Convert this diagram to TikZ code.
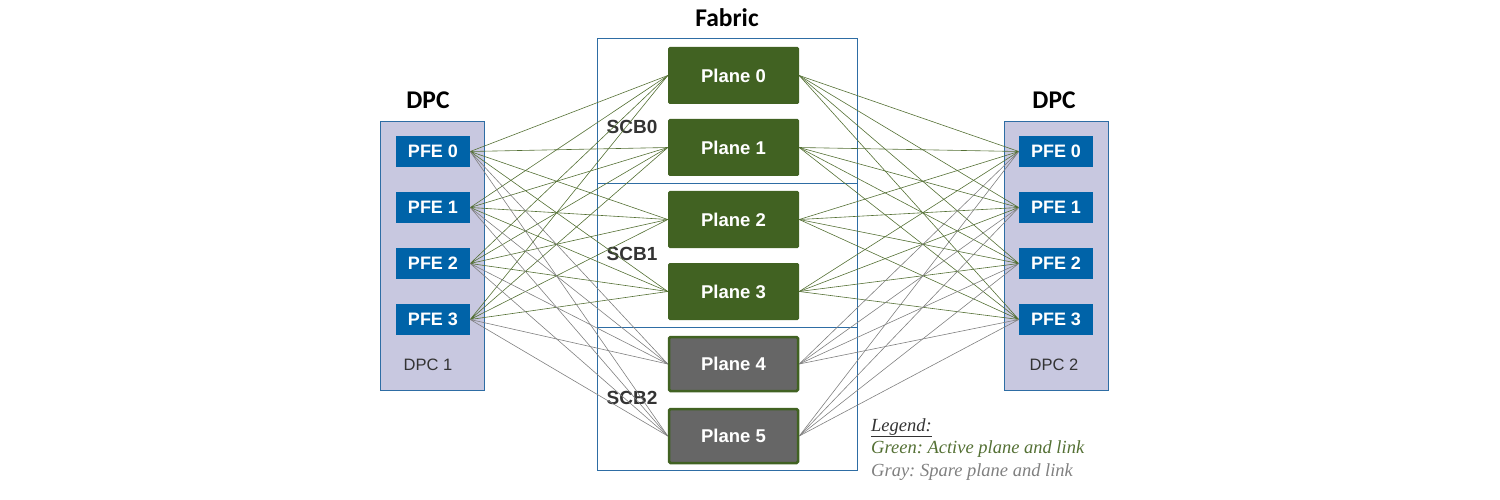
\documentclass[tikz,border=0pt]{standalone}
\usepackage{fontspec}
\setmainfont{Liberation Sans}
\newfontfamily\titlefont{Carlito}
\newfontfamily\legendfont{Liberation Serif}
\usetikzlibrary{arrows, shapes}
\frenchspacing

\definecolor{dpcfill}{RGB}{200,200,224}
\definecolor{boxblue}{RGB}{46,109,164}
\definecolor{pfeblue}{RGB}{0,99,168}
\definecolor{planegreen}{RGB}{65,98,34}
\definecolor{planegray}{RGB}{102,102,102}
\definecolor{linkgreen}{RGB}{84,112,52}
\definecolor{linkgray}{RGB}{128,128,128}
\definecolor{scbtext}{RGB}{51,51,51}

\begin{document}
\begin{tikzpicture}[x=1pt,y=1pt]
\tikzstyle{every node}+=[inner sep=0pt]
\tikzstyle{dpcbox}=[draw=boxblue, fill=dpcfill, line width=0.8pt, minimum width=104pt, minimum height=269pt]
\tikzstyle{pfe}=[fill=pfeblue, minimum width=74pt, minimum height=31pt, text=white, font=\fontsize{18}{20}\selectfont\bfseries]
\tikzstyle{plane}=[fill=planegreen, rounded corners=1.5pt, minimum width=131pt, minimum height=57pt, text=white, font=\fontsize{18.5}{20}\selectfont\bfseries]
\tikzstyle{spareplane}=[plane, fill=planegray, draw=planegreen, line width=2.5pt, minimum width=129pt, minimum height=54pt]
\tikzstyle{title}=[font=\titlefont\fontsize{25.5}{28}\selectfont\bfseries]
\tikzstyle{scb}=[text=scbtext, font=\fontsize{19}{21}\selectfont\bfseries]
\tikzstyle{cardlabel}=[text=scbtext, font=\fontsize{16.5}{18}\selectfont]
\tikzstyle{legendtext}=[anchor=base west, font=\legendfont\fontsize{18.5}{20}\selectfont\itshape]
\tikzstyle{active}=[linkgreen, line width=0.6pt]
\tikzstyle{spare}=[linkgray, line width=0.6pt]
\useasboundingbox (0,0) rectangle (1500,-500);
% titles
\node [title] (dpcltitle) at (428,-100) {DPC};
\node [title] (dpcrtitle) at (1054,-100) {DPC};
\node [title] (fabtitle) at (727,-18) {Fabric};
% line cards
\node [dpcbox] (dpcl) at (432,-255.5) {};
\node [dpcbox] (dpcr) at (1056,-255.5) {};
\node [pfe] (l0) at (433,-151.5) {PFE 0};
\node [pfe] (l1) at (433,-207.5) {PFE 1};
\node [pfe] (l2) at (433,-263.5) {PFE 2};
\node [pfe] (l3) at (433,-319.5) {PFE 3};
\node [pfe] (r0) at (1056,-151.5) {PFE 0};
\node [pfe] (r1) at (1056,-207.5) {PFE 1};
\node [pfe] (r2) at (1056,-263.5) {PFE 2};
\node [pfe] (r3) at (1056,-319.5) {PFE 3};
\node [cardlabel] (dpcllabel) at (428,-365) {DPC 1};
\node [cardlabel] (dpcrlabel) at (1054,-365) {DPC 2};
% switch boards
\draw [boxblue, line width=0.8pt] (597,-38) rectangle (857,-183);
\draw [boxblue, line width=0.8pt] (597,-183) rectangle (857,-327);
\draw [boxblue, line width=0.8pt] (597,-327) rectangle (857,-470);
\node [scb] (scb0) at (632,-127) {SCB0};
\node [scb] (scb1) at (632,-254) {SCB1};
\node [scb] (scb2) at (632,-398) {SCB2};
\node [plane] (p0) at (733.5,-75.5) {Plane 0};
\node [plane] (p1) at (733.5,-147.5) {Plane 1};
\node [plane] (p2) at (733.5,-219.5) {Plane 2};
\node [plane] (p3) at (733.5,-291.5) {Plane 3};
\node [spareplane] (p4) at (733.5,-364) {Plane 4};
\node [spareplane] (p5) at (733.5,-436) {Plane 5};
% links, left side
\draw [active] (l0.east) -- (p0.west) (l0.east) -- (p1.west) (l0.east) -- (p2.west) (l0.east) -- (p3.west);
\draw [active] (l1.east) -- (p0.west) (l1.east) -- (p1.west) (l1.east) -- (p2.west) (l1.east) -- (p3.west);
\draw [active] (l2.east) -- (p0.west) (l2.east) -- (p1.west) (l2.east) -- (p2.west) (l2.east) -- (p3.west);
\draw [active] (l3.east) -- (p0.west) (l3.east) -- (p1.west) (l3.east) -- (p2.west) (l3.east) -- (p3.west);
\draw [spare] (l0.east) -- (p4.west) (l0.east) -- (p5.west);
\draw [spare] (l1.east) -- (p4.west) (l1.east) -- (p5.west);
\draw [spare] (l2.east) -- (p4.west) (l2.east) -- (p5.west);
\draw [spare] (l3.east) -- (p4.west) (l3.east) -- (p5.west);
% links, right side
\draw [active] (r0.west) -- (p0.east) (r0.west) -- (p1.east) (r0.west) -- (p2.east) (r0.west) -- (p3.east);
\draw [active] (r1.west) -- (p0.east) (r1.west) -- (p1.east) (r1.west) -- (p2.east) (r1.west) -- (p3.east);
\draw [active] (r2.west) -- (p0.east) (r2.west) -- (p1.east) (r2.west) -- (p2.east) (r2.west) -- (p3.east);
\draw [active] (r3.west) -- (p0.east) (r3.west) -- (p1.east) (r3.west) -- (p2.east) (r3.west) -- (p3.east);
\draw [spare] (r0.west) -- (p4.east) (r0.west) -- (p5.east);
\draw [spare] (r1.west) -- (p4.east) (r1.west) -- (p5.east);
\draw [spare] (r2.west) -- (p4.east) (r2.west) -- (p5.east);
\draw [spare] (r3.west) -- (p4.east) (r3.west) -- (p5.east);
% legend
\node [legendtext, text=scbtext] (legend) at (871,-431) {\underline{Legend:}};
\node [legendtext, text=linkgreen] (leggreen) at (871,-453) {Green: Active plane and link};
\node [legendtext, text=linkgray] (leggray) at (871,-476) {Gray: Spare plane and link};
\end{tikzpicture}
\end{document}
